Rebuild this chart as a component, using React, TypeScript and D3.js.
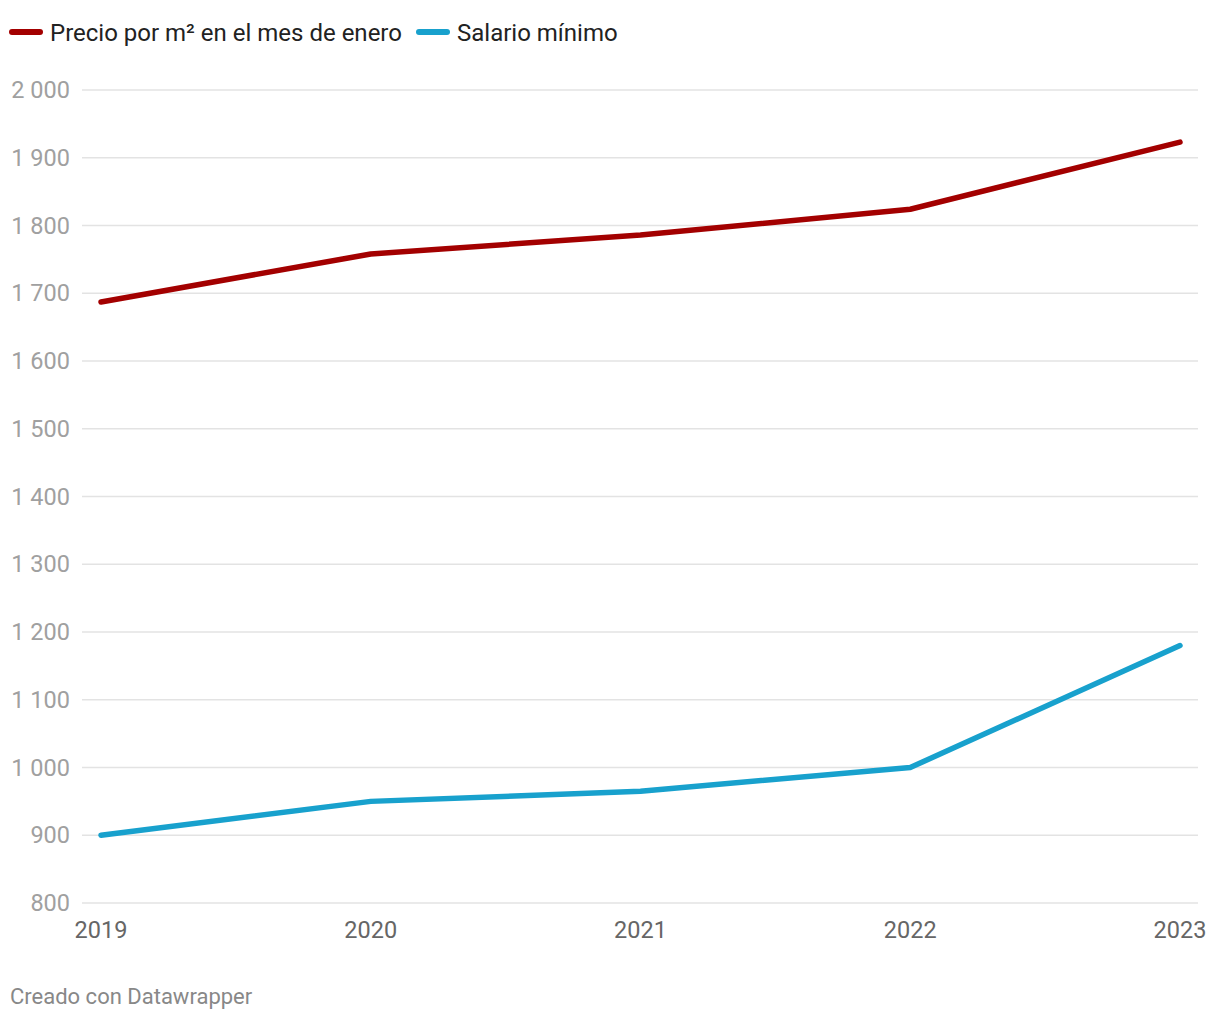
import React from "react";
import * as d3 from "d3";

const years = [2019, 2020, 2021, 2022, 2023];
const precio = [1687, 1758, 1786, 1824, 1923];
const salario = [900, 950, 965, 1000, 1180];
const yTicks = [800, 900, 1000, 1100, 1200, 1300, 1400, 1500, 1600, 1700, 1800, 1900, 2000];
const seriesNames = ["Precio por m² en el mes de enero", "Salario mínimo"];
const seriesColors = ["#a30000", "#18a1cd"];

const W = 1220;
const H = 1020;

export default function App() {
  const x = d3.scaleLinear().domain([2019, 2023]).range([101, 1180]);
  const y = d3.scaleLinear().domain([800, 2000]).range([903, 90]);
  const line = d3
    .line<number>()
    .x((_, i) => x(years[i]))
    .y((d) => y(d));
  const fmt = (v: number) => d3.format(",")(v).replace(/,/g, " ");
  const font = "Roboto, sans-serif";
  const series = [precio, salario];
  const legendX = [12, 419];

  return (
    <svg
      width={W}
      height={H}
      style={{ position: "absolute", left: 0, top: 0, background: "#fff" }}
      fontFamily={font}
    >
      {seriesNames.map((n, i) => (
        <g key={n} transform={`translate(${legendX[i]},32)`}>
          <line x1={0} x2={28} y1={0} y2={0} stroke={seriesColors[i]} strokeWidth={6} strokeLinecap="round" />
          <text x={38} y={8.5} fontSize={24} fill="#222">
            {n}
          </text>
        </g>
      ))}
      {yTicks.map((t) => (
        <g key={t}>
          <line x1={82} x2={1198} y1={y(t)} y2={y(t)} stroke="#e3e3e3" strokeWidth={1.5} />
          <text x={70} y={y(t) + 8} textAnchor="end" fontSize={23.5} fill="#a0a0a0">
            {fmt(t)}
          </text>
        </g>
      ))}
      {years.map((yr) => (
        <text key={yr} x={x(yr)} y={938} textAnchor="middle" fontSize={23.5} fill="#666">
          {yr}
        </text>
      ))}
      {series.map((s, i) => (
        <path
          key={i}
          d={line(s) || ""}
          fill="none"
          stroke={seriesColors[i]}
          strokeWidth={5.5}
          strokeLinecap="round"
          strokeLinejoin="round"
        />
      ))}
      <text x={10} y={1004} fontSize={22} fill="#888">
        Creado con Datawrapper
      </text>
    </svg>
  );
}
